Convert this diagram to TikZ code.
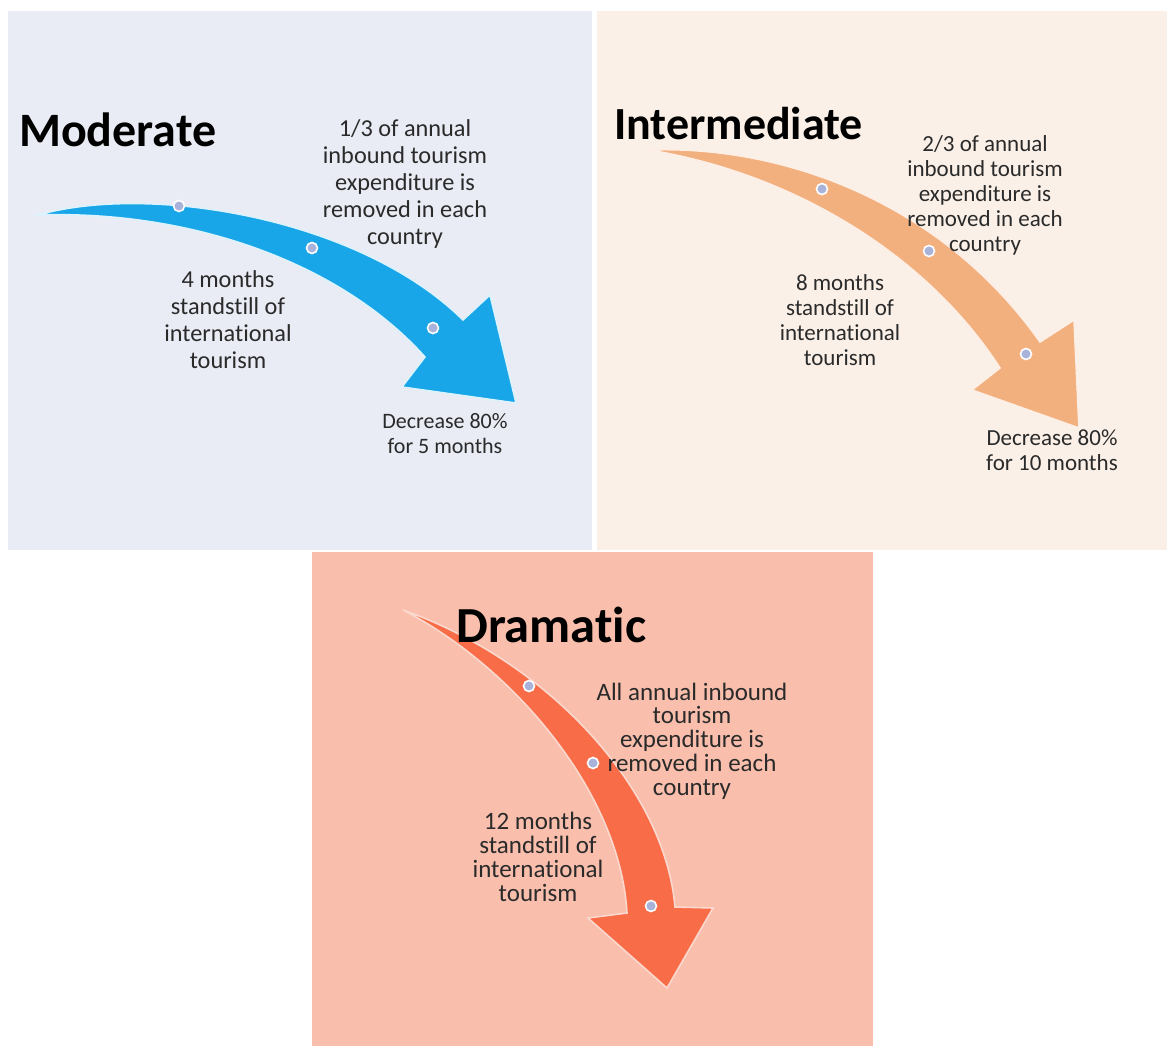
\documentclass[tikz,border=0pt]{standalone}
\usepackage{fontspec}
\setmainfont[Ligatures=NoCommon]{Carlito}
\definecolor{bgA}{HTML}{E9ECF4}
\definecolor{bgB}{HTML}{FAF0E8}
\definecolor{bgC}{HTML}{F9BEAC}
\definecolor{arA}{HTML}{18A6E8}
\definecolor{arB}{HTML}{F3B07F}
\definecolor{arC}{HTML}{F96C48}
\definecolor{txt}{HTML}{2A2A2A}
\definecolor{dotc}{HTML}{A9B3DA}
\tikzset{
  title/.style={font=\bfseries\fontsize{48}{52}\selectfont, text=black, inner sep=0pt, anchor=west},
  bodyA/.style={font=\fontsize{24.3}{27}\selectfont, text=txt, align=center, inner sep=0pt},
  bodyA2/.style={font=\fontsize{22}{25}\selectfont, text=txt, align=center, inner sep=0pt},
  bodyB/.style={font=\fontsize{23}{25}\selectfont, text=txt, align=center, inner sep=0pt},
  bodyC/.style={font=\fontsize{25}{23.8}\selectfont, text=txt, align=center, inner sep=0pt},
  dotmark/.style={circle, fill=dotc, draw=white, line width=1.6pt, minimum size=11pt, inner sep=0pt},
  arrowshape/.style={line width=1.6pt, line join=miter}
}
\begin{document}
\begin{tikzpicture}[x=1pt,y=-1pt]
\useasboundingbox (0,0) rectangle (1167,1046);
\fill[white] (0,0) rectangle (1167,1046);
% panels
\fill[bgA] (8,11) rectangle (592,550);
\fill[bgB] (597,11) rectangle (1167,550);
\fill[bgC] (312,552) rectangle (873,1046);

% Arrow 1 (Moderate)
\filldraw[arA, draw=white!85!arA, arrowshape]
  (38,215) .. controls (150,183) and (360,218) .. (463,320)
  -- (490,295) -- (516,403) -- (402,387) -- (425,357)
  .. controls (340,262) and (190,210) .. (38,215) -- cycle;
\node[dotmark] (a1) at (179,206) {};
\node[dotmark] (a2) at (312,248) {};
\node[dotmark] (a3) at (433,328) {};

% Arrow 2 (Intermediate)
\filldraw[arB, draw=white!80!arB, arrowshape]
  (649,150) .. controls (780,145) and (940,200) .. (1040,342)
  -- (1074,320) -- (1079,428) -- (972,390) -- (1000,368)
  .. controls (925,252) and (790,173) .. (649,150) -- cycle;
\node[dotmark] (b1) at (822,189) {};
\node[dotmark] (b2) at (929,251) {};
\node[dotmark] (b3) at (1026,354) {};

% Arrow 3 (Dramatic)
\filldraw[arC, draw=bgC!60!white, arrowshape]
  (403,610) .. controls (510,665) and (620,790) .. (627,913)
  -- (588,918) -- (667,988) -- (713,908) -- (675,907)
  .. controls (665,790) and (550,662) .. (403,610) -- cycle;
\node[dotmark] (c1) at (529,686) {};
\node[dotmark] (c2) at (593,763) {};
\node[dotmark] (c3) at (651,906) {};

% Texts panel 1
\node[title] (tA) at (19,130) {Moderate};
\node[bodyA] (nA1) at (405,184) {1/3 of annual\\inbound tourism\\expenditure is\\removed in each\\country};
\node[bodyA] (nA2) at (228,320) {4 months\\standstill of\\international\\tourism};
\node[bodyA2] (nA3) at (445,434) {Decrease 80\%\\for 5 months};

% Texts panel 2
\node[title, font=\bfseries\fontsize{46}{50}\selectfont] (tB) at (614,124) {Intermediate};
\node[bodyB] (nB1) at (985,195) {2/3 of annual\\inbound tourism\\expenditure is\\removed in each\\country};
\node[bodyB] (nB2) at (840,320) {8 months\\standstill of\\international\\tourism};
\node[bodyB] (nB3) at (1052,450) {Decrease 80\%\\for 10 months};

% Texts panel 3
\node[title, font=\bfseries\fontsize{50.5}{54}\selectfont] (tC) at (456,625) {Dramatic};
\node[bodyC] (nC1) at (692,741) {All annual inbound\\tourism\\expenditure is\\removed in each\\country};
\node[bodyC] (nC2) at (538,857) {12 months\\standstill of\\international\\tourism};
\end{tikzpicture}
\end{document}
